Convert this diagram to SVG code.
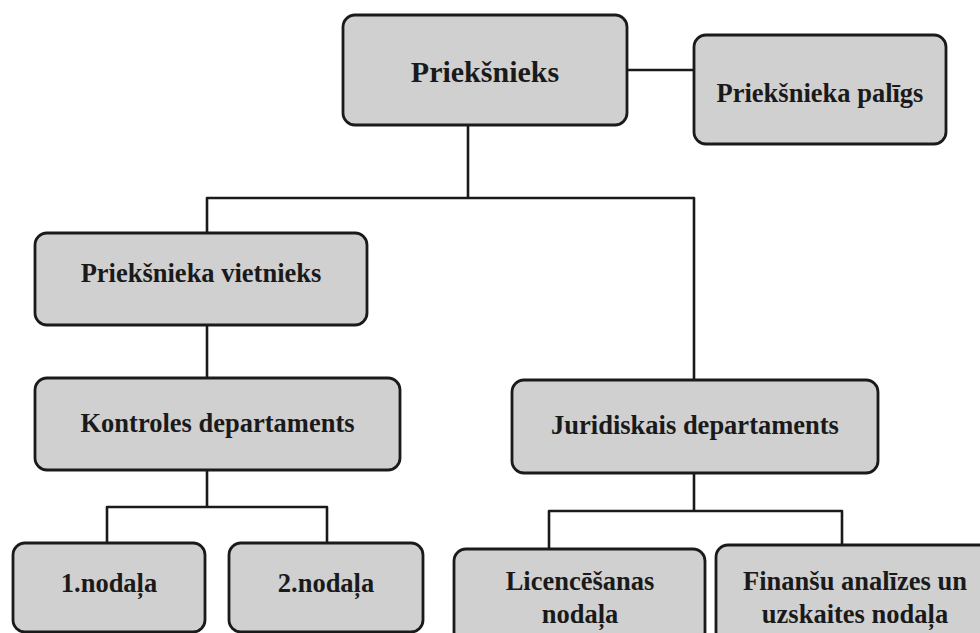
<svg xmlns="http://www.w3.org/2000/svg" width="980" height="633" viewBox="0 0 980 633">
<style>
.box{fill:#d0d0d0;stroke:#1a1a1a;stroke-width:2.8}
.t{font-family:"Liberation Serif","Times New Roman",serif;font-weight:bold;font-size:26.5px;fill:#1a1a1a;text-anchor:middle}
.big{font-size:30px}
.c{fill:none;stroke:#1a1a1a;stroke-width:2.6;stroke-linejoin:round}
</style>
<rect width="980" height="633" fill="#ffffff"/>
<g id="connectors">
<path class="c" d="M627 70 H694"/>
<path class="c" d="M468 125 V198"/>
<path class="c" d="M207 233 V198 H694 V380"/>
<path class="c" d="M207 325 V378"/>
<path class="c" d="M207 470 V507"/>
<path class="c" d="M107 543 V507 H327 V543"/>
<path class="c" d="M694 473 V511"/>
<path class="c" d="M549 549 V511 H842 V545"/>
</g>
<g id="priekSnieks">
<rect class="box" x="343" y="15" width="284" height="110" rx="12"/>
<text class="t big" x="485" y="82">Priekšnieks</text>
</g>
<g id="paligs">
<rect class="box" x="694" y="35" width="252" height="109" rx="12"/>
<text class="t" x="820" y="102">Priekšnieka palīgs</text>
</g>
<g id="vietnieks">
<rect class="box" x="35" y="233" width="332" height="92" rx="12"/>
<text class="t" x="201" y="282">Priekšnieka vietnieks</text>
</g>
<g id="kontroles">
<rect class="box" x="35" y="378" width="365" height="92" rx="12"/>
<text class="t" x="217.5" y="432">Kontroles departaments</text>
</g>
<g id="juridiskais">
<rect class="box" x="512" y="380" width="366" height="93" rx="12"/>
<text class="t" x="695" y="434">Juridiskais departaments</text>
</g>
<g id="nodala1">
<rect class="box" x="13" y="543" width="192" height="89" rx="12"/>
<text class="t" x="109" y="592">1.nodaļa</text>
</g>
<g id="nodala2">
<rect class="box" x="229" y="543" width="194" height="89" rx="12"/>
<text class="t" x="326" y="592">2.nodaļa</text>
</g>
<g id="licencesanas">
<rect class="box" x="454" y="549" width="251" height="95" rx="12"/>
<text class="t" x="580" y="590">Licencēšanas</text>
<text class="t" x="580" y="623">nodaļa</text>
</g>
<g id="finansu">
<rect class="box" x="716" y="545" width="280" height="99" rx="12"/>
<text class="t" x="855" y="590">Finanšu analīzes un</text>
<text class="t" x="855" y="623">uzskaites nodaļa</text>
</g>
</svg>
